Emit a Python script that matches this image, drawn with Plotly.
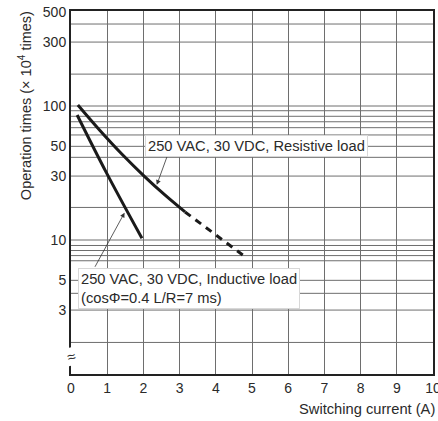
import math
import plotly.graph_objects as go

# ---- data ----
res_x = [0.19, 0.80, 1.41, 2.02, 2.60, 3.15]
res_y = [101.7, 65.6, 43.6, 30.0, 21.6, 16.2]
res_dash_x = [3.15, 4.81]
res_dash_y = [16.2, 7.5]
ind_x = [0.17, 0.97, 1.96]
ind_y = [85.7, 32.1, 10.3]

x_ticks = list(range(0, 11))
y_ticks = [3, 5, 10, 30, 50, 100, 300, 500]
y_grid = [409, 300, 173, 100, 92.2, 83.8, 76.3, 68.9, 60.8, 50, 41.4, 30, 17.5,
          10, 9.1, 8.35, 7.65, 7.0, 5, 4, 3, 1.72]

label_res = "250 VAC, 30 VDC, Resistive load"
label_ind = "250 VAC, 30 VDC, Inductive load<br>(cosΦ=0.4 L/R=7 ms)"

FONT = "Liberation Sans, Arial, Helvetica, sans-serif"
TXT = "#2a2a2a"
LINE = "#1a1a1a"
L = math.log10  # annotations on a log axis take log10 positions

fig = go.Figure()
fig.add_trace(go.Scatter(x=res_x, y=res_y, mode="lines",
                         line=dict(color=LINE, width=3, shape="spline", smoothing=1.0),
                         showlegend=False, hoverinfo="skip"))
fig.add_trace(go.Scatter(x=res_dash_x, y=res_dash_y, mode="lines",
                         line=dict(color=LINE, width=3, dash="7px,6px"),
                         showlegend=False, hoverinfo="skip"))
fig.add_trace(go.Scatter(x=ind_x, y=ind_y, mode="lines",
                         line=dict(color=LINE, width=3, shape="spline", smoothing=1.0),
                         showlegend=False, hoverinfo="skip"))

shapes = []
for v in y_grid:
    shapes.append(dict(type="line", xref="paper", yref="y", x0=0, x1=1, y0=v, y1=v,
                       line=dict(color="#6e6e6e", width=1), layer="below"))
fig.update_layout(shapes=shapes)

annotations = [
    # arrows
    dict(x=2.37, y=L(25.8), ax=2.68, ay=L(43.9), xref="x", yref="y", axref="x", ayref="y",
         text="", showarrow=True, arrowhead=2, arrowsize=1.2, arrowwidth=0.8,
         arrowcolor="#333"),
    dict(x=1.48, y=L(16.0), ax=0.64, ay=L(6.15), xref="x", yref="y", axref="x", ayref="y",
         text="", showarrow=True, arrowhead=2, arrowsize=1.2, arrowwidth=0.8,
         arrowcolor="#333"),
    # label boxes
    dict(x=2.05, y=L(50), xref="x", yref="y", text=label_res, showarrow=False,
         xanchor="left", yanchor="middle", align="left",
         font=dict(family=FONT, size=14.7, color=TXT),
         bgcolor="white", bordercolor="#d8d8d8", borderwidth=1, borderpad=2),
    dict(x=0.185, y=L(6.21), xref="x", yref="y", text=label_ind, showarrow=False,
         xanchor="left", yanchor="top", align="left",
         font=dict(family=FONT, size=14.7, color=TXT),
         bgcolor="white", bordercolor="#d8d8d8", borderwidth=1, borderpad=2),
    # axis break mark
    dict(x=0, y=L(1.36), xref="x", yref="y", text="≈", showarrow=False,
         font=dict(family=FONT, size=15, color="#333"), textangle=-15,
         bgcolor="white", borderpad=0,
         xanchor="center", yanchor="middle"),
    # axis titles
    dict(x=1.01, y=-0.0964, xref="paper", yref="paper", text="Switching current (A)",
         showarrow=False, xanchor="right", yanchor="middle",
         font=dict(family=FONT, size=14.7, color=TXT)),
    dict(x=-0.127, y=0.738, xref="paper", yref="paper",
         text="Operation times (× 10<sup>4</sup> times)", textangle=-90,
         showarrow=False, xanchor="center", yanchor="middle",
         font=dict(family=FONT, size=14.5, color=TXT)),
]
fig.update_layout(annotations=annotations)

fig.update_xaxes(range=[0, 10], tickvals=x_ticks, showgrid=True, gridcolor="#6e6e6e",
                 gridwidth=1, zeroline=False, showline=True, linecolor="#222",
                 linewidth=2, mirror=True, ticks="", ticklabeloverflow="allow",
                 automargin=False,
                 tickfont=dict(family=FONT, size=14, color=TXT))
fig.update_yaxes(type="log", range=[0, 2.709], tickvals=y_ticks,
                 ticktext=[str(v) for v in y_ticks], showgrid=False, zeroline=False,
                 showline=True, linecolor="#222", linewidth=2, mirror=True, ticks="",
                 automargin=False,
                 tickfont=dict(family=FONT, size=14, color=TXT))

fig.update_layout(width=438, height=421, margin=dict(l=71, r=5, t=11, b=47, autoexpand=False),
                  plot_bgcolor="white", paper_bgcolor="white", showlegend=False)

fig.write_html("out.html", config={"displayModeBar": False},
               post_script="document.body.style.margin='0';")
